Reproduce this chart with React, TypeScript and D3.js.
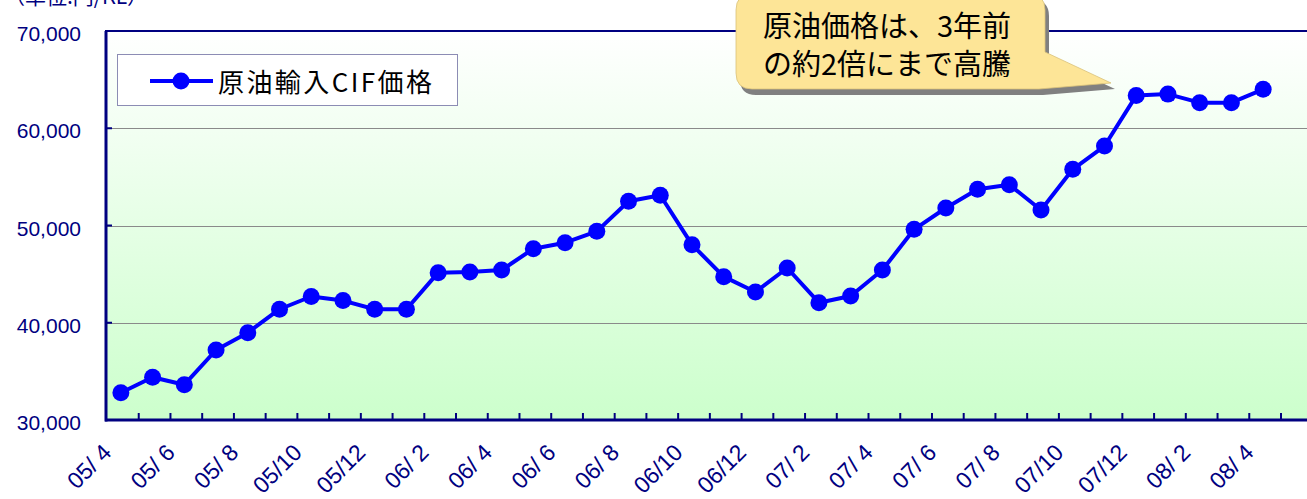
import * as d3 from 'd3'

// monthly labels (yy/ m)
const months = [
  '05/ 4', '05/ 5', '05/ 6', '05/ 7', '05/ 8', '05/ 9', '05/10', '05/11', '05/12',
  '06/ 1', '06/ 2', '06/ 3', '06/ 4', '06/ 5', '06/ 6', '06/ 7', '06/ 8', '06/ 9', '06/10', '06/11', '06/12',
  '07/ 1', '07/ 2', '07/ 3', '07/ 4', '07/ 5', '07/ 6', '07/ 7', '07/ 8', '07/ 9', '07/10', '07/11', '07/12',
  '08/ 1', '08/ 2', '08/ 3', '08/ 4',
]

// 原油輸入CIF価格 (円/KL)
const cifPrice = [
  32800, 34400, 33630, 37200, 38980, 41390, 42700, 42280, 41390,
  41390, 45150, 45220, 45420, 47610, 48230, 49400, 52490, 53110, 48030, 44740, 43160,
  45630, 42060, 42750, 45420, 49610, 51800, 53720, 54200, 51590, 55780, 58170, 63360,
  63510, 62630, 62630, 64000,
]

const yTicks = [30000, 40000, 50000, 60000, 70000]

const seriesName = '原油輸入CIF価格'
const unitLabel = '（単位:円/KL）'
const calloutLines = ['原油価格は、3年前', 'の約2倍にまで高騰']

const NAVY = '#000080'
const BLUE = '#0000ff'
const LATIN = '"Liberation Sans", Arial, sans-serif'
const CJK = '"Noto Sans CJK JP", "Liberation Sans", sans-serif'

export default function App() {
  const width = 1307
  const height = 499
  const plotLeft = 105
  const plotRight = 1279 // end of last category
  const plotTop = 31
  const plotBottom = 420

  const x = d3.scaleBand<string>().domain(months).range([plotLeft, plotRight]).padding(0)
  const bw = x.bandwidth()
  const cx = (m: string) => (x(m) ?? 0) + bw / 2
  const y = d3.scaleLinear().domain([30000, 70000]).range([plotBottom, plotTop])

  const points = months.map((m, i) => ({ m, v: cifPrice[i] }))
  const line = d3
    .line<{ m: string; v: number }>()
    .x(d => cx(d.m))
    .y(d => y(d.v))

  // category boundaries for tick marks
  const boundaries = months.map(m => (x(m) ?? 0) + bw)

  // callout bubble
  const bl = 736
  const br = 1045
  const bt = -6
  const bb = 89
  const r = 16
  const bubble =
    `M${bl + r},${bt} H${br - r} Q${br},${bt} ${br},${bt + r} V52 L1111,83 L${br - 6},${bb} ` +
    `H${bl + r} Q${bl},${bb} ${bl},${bb - r} V${bt + r} Q${bl},${bt} ${bl + r},${bt} Z`

  return (
    <svg
      width={width}
      height={height}
      style={{ position: 'absolute', left: 0, top: 0, background: '#fff' }}
    >
      <defs>
        <linearGradient id="plotBg" x1="0" y1="0" x2="0" y2="1">
          <stop offset="0%" stopColor="#ffffff" />
          <stop offset="100%" stopColor="#ccffcc" />
        </linearGradient>
      </defs>

      {/* plot area */}
      <rect
        x={plotLeft + 1}
        y={plotTop}
        width={width - plotLeft}
        height={plotBottom - plotTop}
        fill="url(#plotBg)"
      />

      {/* gridlines */}
      {yTicks
        .filter(t => t !== 30000 && t !== 70000)
        .map(t => (
          <line
            key={t}
            x1={plotLeft}
            x2={width}
            y1={Math.round(y(t)) + 0.5}
            y2={Math.round(y(t)) + 0.5}
            stroke="#8a8a8a"
            strokeWidth={1}
          />
        ))}

      {/* top border */}
      <line x1={plotLeft} x2={width} y1={plotTop} y2={plotTop} stroke={NAVY} strokeWidth={2} />

      {/* y ticks (inside) */}
      {yTicks.map(t => (
        <line key={t} x1={plotLeft} x2={plotLeft + 7} y1={y(t)} y2={y(t)} stroke={NAVY} strokeWidth={2} />
      ))}

      {/* x ticks (inside) */}
      {boundaries.map((b, i) => (
        <line key={i} x1={b + 2} x2={b + 2} y1={plotBottom} y2={plotBottom - 7} stroke={NAVY} strokeWidth={2} />
      ))}

      {/* axes */}
      <line x1={plotLeft + 1} x2={plotLeft + 1} y1={plotTop} y2={plotBottom + 1.5} stroke={NAVY} strokeWidth={3} />
      <line x1={plotLeft} x2={width} y1={plotBottom} y2={plotBottom} stroke={NAVY} strokeWidth={3} />

      {/* y labels */}
      {yTicks.map(t => (
        <text
          key={t}
          x={81}
          y={y(t) + 10}
          textAnchor="end"
          fontFamily={LATIN}
          fontSize={21}
          fill={NAVY}
        >
          {d3.format(',')(t)}
        </text>
      ))}

      {/* x labels, every 2 months */}
      {months.map((m, i) =>
        i % 2 === 0 ? (
          <text
            key={m}
            transform={`translate(${cx(m) - 8},${454}) rotate(-45)`}
            textAnchor="end"
            fontFamily={LATIN}
            fontSize={23}
            fill={NAVY}
            style={{ whiteSpace: 'pre' }}
          >
            {m}
          </text>
        ) : null
      )}

      {/* unit */}
      <text x={4} y={4} fontFamily={CJK} fontSize={21} fill={NAVY}>
        {unitLabel}
      </text>

      {/* series */}
      <path d={line(points) ?? ''} fill="none" stroke={BLUE} strokeWidth={4} strokeLinejoin="round" />
      {points.map(p => (
        <circle key={p.m} cx={cx(p.m)} cy={y(p.v)} r={8.5} fill={BLUE} />
      ))}

      {/* legend */}
      <rect x={117.5} y={54.5} width={340} height={51} fill="#fff" stroke="#8c8cb4" strokeWidth={1} />
      <line x1={150} x2={213} y1={81} y2={81} stroke={BLUE} strokeWidth={4} />
      <circle cx={181} cy={81} r={8.5} fill={BLUE} />
      <text
        x={218}
        y={92}
        fontFamily={CJK}
        fontSize={26}
        fill="#000"
        textLength={214}
        lengthAdjust="spacing"
      >
        {seriesName}
      </text>

      {/* callout */}
      <path d={bubble} transform="translate(4,6)" fill="#808080" />
      <path d={bubble} fill="#fde597" stroke="#d9c27a" strokeWidth={0.8} />
      {calloutLines.map((s, i) => (
        <text
          key={i}
          x={887}
          y={37 + i * 38}
          textAnchor="middle"
          fontFamily={CJK}
          fontSize={29}
          fill="#000"
        >
          {s}
        </text>
      ))}
    </svg>
  )
}
